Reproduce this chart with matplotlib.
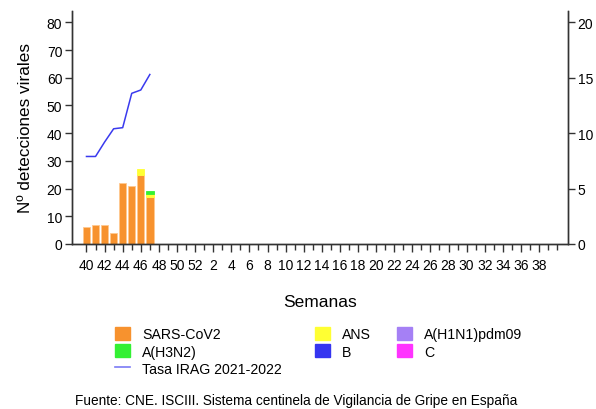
import matplotlib
matplotlib.use("Agg")
import matplotlib.pyplot as plt
from matplotlib.patches import Patch
from matplotlib.lines import Line2D
import numpy as np

plt.rcParams['font.family'] = ['Liberation Sans', 'DejaVu Sans']

# Weeks of the season (40..52, 1..40)
weeks = list(range(40, 53)) + list(range(1, 41))
tick_labels = [str(w) if (i % 2 == 0 and i <= 50) else '' for i, w in enumerate(weeks)]

# Virus detections per week (weeks 40-47)
sars_cov2 = [6, 7, 7, 4, 22, 21, 25, 17]
ans       = [0, 0, 0, 0, 0, 0, 2, 1]
a_h3n2    = [0, 0, 0, 0, 0, 0, 0, 1]
a_h1n1    = [0, 0, 0, 0, 0, 0, 0, 0]
b_virus   = [0, 0, 0, 0, 0, 0, 0, 0]
c_virus   = [0, 0, 0, 0, 0, 0, 0, 0]

# Tasa IRAG 2021-2022 (right axis)
tasa_irag = [7.9, 7.9, 9.2, 10.4, 10.5, 13.6, 13.9, 15.3]

series = [
    ("SARS-CoV2", sars_cov2, "#F7922E"),
    ("ANS", ans, "#FFFF33"),
    ("A(H3N2)", a_h3n2, "#33F033"),
    ("A(H1N1)pdm09", a_h1n1, "#A580F5"),
    ("B", b_virus, "#3535F0"),
    ("C", c_virus, "#FF33FF"),
]
line_color = "#3A3AEE"

fig = plt.figure(figsize=(5.96, 4.10), dpi=100)
ax = fig.add_axes([72/596, 1-245/410, (568-72)/596, (245-12)/410])
ax2 = ax.twinx()

x = np.arange(len(sars_cov2))
bottom = np.zeros(len(x))
for name, vals, col in series:
    v = np.array(vals, dtype=float)
    m = v > 0
    if m.any():
        ax.bar(x[m], v[m], bottom=bottom[m], width=0.82, color=col,
               edgecolor='#FFC890' if name == "SARS-CoV2" else col,
               linewidth=0.6, zorder=2)
    bottom += v

ax2.plot(x, tasa_irag, color=line_color, lw=1.1, zorder=3)

n = len(weeks)
ax.set_xlim(-1.6, 53.2)
ax.set_ylim(0, 84.1)
ax2.set_ylim(0, 21.03)

ax.set_yticks(np.arange(0, 81, 10))
ax2.set_yticks(np.arange(0, 21, 5))

ax.set_xticks([i for i in range(n) if tick_labels[i]])
ax.set_xticklabels([tick_labels[i] for i in range(n) if tick_labels[i]])
ax.set_xticks([i for i in range(n) if not tick_labels[i]], minor=True)

spine_col = '#333333'
for a in (ax, ax2):
    a.spines['top'].set_visible(False)
    for s in ('left', 'right', 'bottom'):
        a.spines[s].set_color(spine_col)
        a.spines[s].set_linewidth(1.0)

ax.tick_params(axis='x', which='major', length=6, width=1, color=spine_col, labelsize=10, pad=4)
ax.tick_params(axis='x', which='minor', length=4, width=1, color=spine_col)
ax.tick_params(axis='y', length=5, width=1, color=spine_col, labelsize=10, pad=2)
ax2.tick_params(axis='y', length=5, width=1, color=spine_col, labelsize=10, pad=2)

ax.set_ylabel("Nº detecciones virales", fontsize=12.3, labelpad=10)
ax.set_xlabel("Semanas", fontsize=12.5, labelpad=16)

def patch(c):
    return Patch(facecolor=c, edgecolor=c)

col_map = {name: c for name, _, c in series}
legend_cols = [
    (115, [(patch(col_map["SARS-CoV2"]), "SARS-CoV2"), (patch(col_map["A(H3N2)"]), "A(H3N2)"),
           (Line2D([0], [0], color="#7A7AF5", lw=1.2), "Tasa IRAG 2021-2022")]),
    (315, [(patch(col_map["ANS"]), "ANS"), (patch(col_map["B"]), "B")]),
    (397, [(patch(col_map["A(H1N1)pdm09"]), "A(H1N1)pdm09"), (patch(col_map["C"]), "C")]),
]
for xpx, items in legend_cols:
    fig.legend([h for h, _ in items], [l for _, l in items],
               loc='upper left', bbox_to_anchor=(xpx/596, 1-328/410),
               frameon=False, fontsize=10.2, handlelength=1.05, handleheight=1.05,
               handletextpad=0.85, labelspacing=0.2, borderpad=0, borderaxespad=0)

fig.text(296/596, 1-401/410, "Fuente: CNE. ISCIII. Sistema centinela de Vigilancia de Gripe en España",
         ha='center', va='center', fontsize=9.8)

fig.savefig("out.png", dpi=100)
